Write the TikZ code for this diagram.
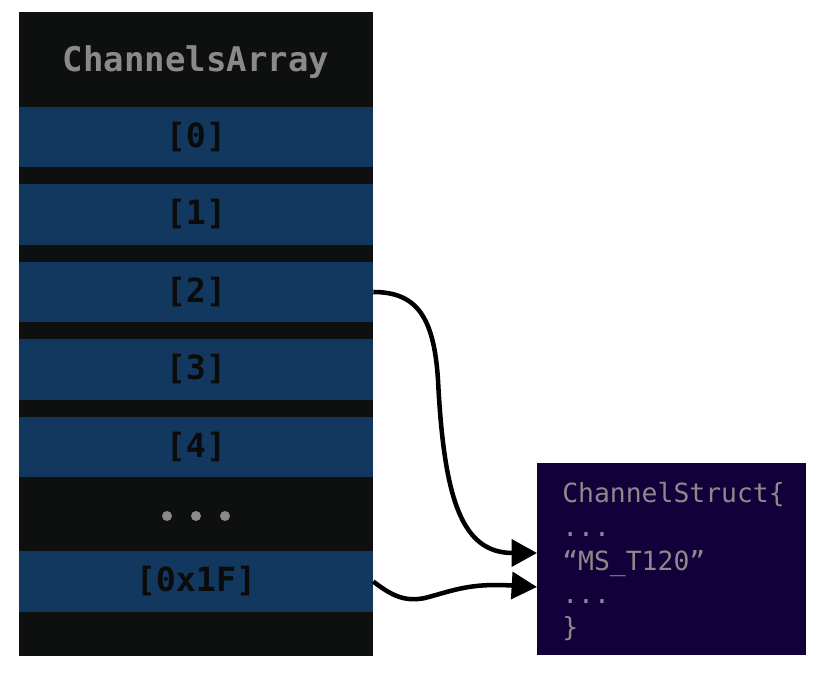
\documentclass[tikz,border=0pt]{standalone}
\usepackage{fontspec}
\setmonofont{DejaVu Sans Mono}
\usetikzlibrary{arrows.meta}
\definecolor{colbg}{HTML}{0E100F}
\definecolor{rowblue}{HTML}{12385F}
\definecolor{structbg}{HTML}{12003A}
\definecolor{txtgray}{HTML}{8A8A8A}
\definecolor{lbldark}{HTML}{0B0B0B}
\tikzset{
  colbox/.style={fill=colbg, draw=none, minimum width=265.5pt, minimum height=483pt, inner sep=0pt},
  rowbox/.style={fill=rowblue, draw=none, minimum width=265.5pt, minimum height=45.5pt, inner sep=0pt,
     font=\ttfamily\bfseries\fontsize{25}{29}\selectfont, text=lbldark},
  titletxt/.style={font=\ttfamily\bfseries\fontsize{25.5}{29}\selectfont, text=txtgray, inner sep=0pt},
  dotmark/.style={circle, fill=txtgray, draw=none, minimum size=7.5pt, inner sep=0pt},
  structbox/.style={fill=structbg, draw=none, minimum width=201.75pt, minimum height=144pt, inner sep=0pt},
  structtxt/.style={font=\ttfamily\fontsize{19.8}{23}\selectfont, text=txtgray, inner sep=0pt, anchor=base west},
  arr/.style={line width=3.4pt, -{Triangle[length=19pt,width=20pt]}}
}
\begin{document}
\begin{tikzpicture}[x=0.75pt,y=-0.75pt]
\useasboundingbox (0,0) rectangle (816,680);
\node[colbox] (col) at (196,334) {};
\node[titletxt] (title) at (196,62) {ChannelsArray};
\node[rowbox] (r0) at (196,137) {[0]};
\node[rowbox] (r1) at (196,214.5) {[1]};
\node[rowbox] (r2) at (196,292) {[2]};
\node[rowbox] (r3) at (196,369.5) {[3]};
\node[rowbox] (r4) at (196,447) {[4]};
\node[dotmark] (d1) at (167,516) {};
\node[dotmark] (d2) at (196,516) {};
\node[dotmark] (d3) at (225,516) {};
\node[rowbox] (r5) at (196,581.5) {[0x1F]};
\node[structbox] (st) at (671.5,559) {};
\node[structtxt] (s1) at (562,502) {ChannelStruct\{};
\node[structtxt] (s2) at (562,536) {...};
\node[structtxt] (s3) at (562,570) {“MS\_T120”};
\node[structtxt] (s4) at (562,603) {...};
\node[structtxt] (s5) at (562,636) {\}};
\coordinate (in1) at (537,553);
\coordinate (in2) at (537,587);
\draw[arr] (r2.east) .. controls (416,292) and (434,316) .. (438,380)
   .. controls (444,500) and (462,553) .. (in1);
\draw[arr] (r5.east) .. controls (392,596) and (405,602) .. (425,598)
   .. controls (455,590) and (470,583) .. (in2);
\end{tikzpicture}
\end{document}
